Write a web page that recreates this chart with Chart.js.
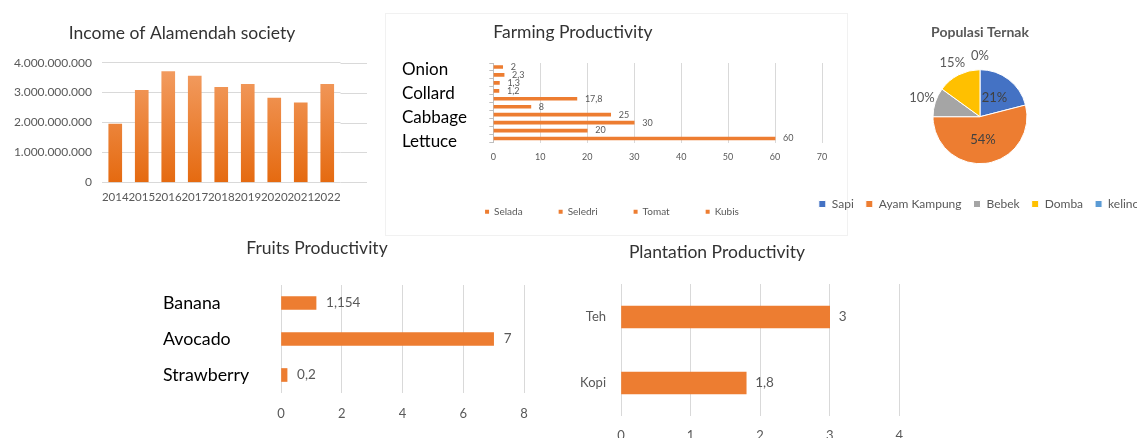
<!DOCTYPE html>
<html>
<head>
<meta charset="utf-8">
<script src="https://cdn.jsdelivr.net/npm/chart.js@4.4.1/dist/chart.umd.min.js"></script>
<style>
  html, body { margin: 0; padding: 0; background: #ffffff; }
  body { width: 1137px; height: 438px; position: relative; overflow: hidden; }
  canvas.c { position: absolute; }
  #farmBox { position: absolute; left: 385px; top: 13px; width: 461px; height: 221px; border: 1px solid #F1F1F1; }
</style>
</head>
<body>
<div id="farmBox"></div>
<canvas id="income" class="c" width="368" height="220" style="left:0px;top:0px"></canvas>
<canvas id="farming" class="c" width="461" height="221" style="left:386px;top:14px"></canvas>
<canvas id="pie" class="c" width="380" height="230" style="left:790px;top:0px"></canvas>
<canvas id="fruits" class="c" width="400" height="208" style="left:150px;top:230px"></canvas>
<canvas id="plant" class="c" width="395" height="260" style="left:520px;top:230px"></canvas>
<script>
// ---------------- DATA ----------------
const incomeYears = ['2014', '2015', '2016', '2017', '2018', '2019', '2020', '2021', '2022'];
const incomeValues = [1950000000, 3080000000, 3700000000, 3550000000, 3180000000, 3280000000, 2820000000, 2660000000, 3280000000];

const farmCategories = ['Onion', '', '', 'Collard', '', '', 'Cabbage', '', '', 'Lettuce'];
const farmValues = [2, 2.3, 1.3, 1.2, 17.8, 8, 25, 30, 20, 60];
const farmLegendNames = ['Selada', 'Seledri', 'Tomat', 'Kubis'];

const livestockNames = ['Sapi', 'Ayam Kampung', 'Bebek', 'Domba', 'kelinci'];
const livestockShare = [21, 54, 10, 15, 0];

const fruitNames = ['Banana', 'Avocado', 'Strawberry'];
const fruitValues = [1.154, 7, 0.2];

const plantNames = ['Teh', 'Kopi'];
const plantValues = [3, 1.8];

// ---------------- STYLE ----------------
const ORANGE = '#ED7D31';
const GRID = '#D9D9D9';
const TICK = '#595959';
const TITLE = '#333333';
const livestockColors = ['#4472C4', '#ED7D31', '#A5A5A5', '#FFC000', '#5B9BD5'];

Chart.defaults.font.family = 'Lato, "Open Sans", sans-serif';
Chart.defaults.animation = false;

const commaNum = v => String(v).replace('.', ',');
const dotThousands = v => String(Math.round(v)).replace(/\B(?=(\d{3})+(?!\d))/g, '.');

// ---------------- PLUGINS ----------------
const barValueLabels = {
  id: 'barValueLabels',
  afterDatasetsDraw(chart, args, opts) {
    const ctx = chart.ctx;
    chart.data.datasets.forEach((ds, di) => {
      const meta = chart.getDatasetMeta(di);
      meta.data.forEach((bar, i) => {
        const v = ds.data[i];
        if (v === null || v === undefined) return;
        ctx.save();
        ctx.font = `${opts.size}px ${Chart.defaults.font.family}`;
        ctx.fillStyle = opts.color;
        ctx.textAlign = 'left';
        ctx.textBaseline = 'middle';
        ctx.fillText(commaNum(v), bar.x + opts.offset, bar.y);
        ctx.restore();
      });
    });
  }
};

const extendGrid = {
  id: 'extendGrid',
  beforeDatasetsDraw(chart, args, opts) {
    const y = chart.scales.y;
    const { ctx, chartArea } = chart;
    ctx.save();
    ctx.strokeStyle = opts.color;
    ctx.lineWidth = 1;
    y.ticks.forEach(t => {
      const py = Math.round(y.getPixelForValue(t.value)) + 0.5;
      ctx.beginPath();
      ctx.moveTo(chartArea.right, py);
      ctx.lineTo(opts.to, py);
      ctx.stroke();
    });
    ctx.restore();
  }
};

const pieLabels = {
  id: 'pieLabels',
  afterDatasetsDraw(chart, args, opts) {
    const ctx = chart.ctx;
    const data = chart.data.datasets[0].data;
    const total = data.reduce((a, b) => a + b, 0);
    const meta = chart.getDatasetMeta(0);
    meta.data.forEach((arc, i) => {
      const p = arc.getProps(['x', 'y', 'startAngle', 'endAngle', 'outerRadius'], true);
      const mid = (p.startAngle + p.endAngle) / 2;
      const pct = Math.round(data[i] / total * 100);
      const inside = pct >= 20;
      const r = inside ? p.outerRadius * 0.5 : p.outerRadius + opts.outside;
      ctx.save();
      ctx.font = `${opts.size}px ${Chart.defaults.font.family}`;
      ctx.fillStyle = inside ? opts.insideColor : opts.outsideColor;
      ctx.textAlign = 'center';
      ctx.textBaseline = 'middle';
      ctx.fillText(pct + '%', p.x + Math.cos(mid) * r, p.y + Math.sin(mid) * r);
      ctx.restore();
    });
  }
};

const freeTitle = {
  id: 'freeTitle',
  afterDraw(chart, args, opts) {
    const ctx = chart.ctx;
    ctx.save();
    ctx.font = `${opts.size}px ${Chart.defaults.font.family}`;
    ctx.fillStyle = opts.color;
    ctx.textAlign = 'center';
    ctx.textBaseline = 'middle';
    ctx.fillText(opts.text, opts.x, opts.y);
    ctx.restore();
  }
};

function incomeGradient(chart) {
  const { ctx, chartArea } = chart;
  if (!chartArea) return ORANGE;
  const g = ctx.createLinearGradient(0, chartArea.top, 0, chartArea.bottom);
  g.addColorStop(0, '#F39F66');
  g.addColorStop(1, '#E56A10');
  return g;
}

// ---------------- INCOME ----------------
new Chart(document.getElementById('income'), {
  type: 'bar',
  data: {
    labels: incomeYears,
    datasets: [{ data: incomeValues, backgroundColor: c => incomeGradient(c.chart), barThickness: 13 }]
  },
  options: {
    responsive: false, devicePixelRatio: 1,
    layout: { padding: { left: 0, right: 27.5, top: 62.7, bottom: 7.9 } },
    plugins: {
      legend: { display: false }, tooltip: { enabled: false },
      freeTitle: { text: 'Income of Alamendah society', x: 182, y: 33, size: 17.5, color: TITLE },
      extendGrid: { to: 367, color: GRID }
    },
    scales: {
      x: { grid: { display: false, drawTicks: false }, border: { display: false },
           ticks: { autoSkip: false, maxRotation: 0, minRotation: 0, padding: 8, color: TICK, font: { size: 11.5 } } },
      y: { min: 0, max: 4000000000, afterFit(s) { s.width = 102; },
           grid: { color: GRID, drawTicks: false }, border: { display: false },
           ticks: { stepSize: 1000000000, padding: 10, color: TICK, font: { size: 12 }, callback: v => dotThousands(v) } }
    }
  },
  plugins: [extendGrid, freeTitle]
});

// ---------------- FARMING ----------------
new Chart(document.getElementById('farming'), {
  type: 'bar',
  data: {
    labels: farmCategories,
    datasets: [{ data: farmValues, backgroundColor: ORANGE, barThickness: 3 }]
  },
  options: {
    indexAxis: 'y', responsive: false, devicePixelRatio: 1,
    layout: { padding: { left: 16, right: 25, top: 0, bottom: 8.3 } },
    plugins: {
      tooltip: { enabled: false },
      title: { display: true, text: 'Farming Productivity', align: 'start', fullSize: false, color: TITLE,
               font: { size: 17.5, weight: 'normal' }, padding: { top: 7.5, bottom: 20.5 } },
      legend: {
        display: true, position: 'bottom', onClick: null,
        labels: {
          boxWidth: 4, boxHeight: 4, padding: 36, color: TICK, font: { size: 10 },
          generateLabels: () => farmLegendNames.map((t, i) => ({
            text: t, fillStyle: ORANGE, strokeStyle: ORANGE, lineWidth: 0, hidden: false, fontColor: TICK, datasetIndex: 0, index: i
          }))
        }
      },
      barValueLabels: { color: TICK, size: 9, offset: 8 }
    },
    scales: {
      x: { min: 0, max: 70, afterFit(s) { s.height = 28.2; },
           grid: { color: GRID, drawTicks: false }, border: { display: false },
           ticks: { stepSize: 10, padding: 9, color: TICK, font: { size: 9 } } },
      y: { afterFit(s) { s.width = 91.3; },
           grid: { drawOnChartArea: false, drawTicks: true, tickLength: 4, color: '#BFBFBF', offset: true },
           border: { display: true, color: '#BFBFBF' },
           ticks: { autoSkip: false, crossAlign: 'far', labelOffset: 3, color: '#000000', font: { size: 17 } } }
    }
  },
  plugins: [barValueLabels]
});

// ---------------- PIE ----------------
new Chart(document.getElementById('pie'), {
  type: 'pie',
  data: {
    labels: livestockNames,
    datasets: [{ data: livestockShare, backgroundColor: livestockColors, borderColor: '#ffffff', borderWidth: 1, radius: 47 }]
  },
  options: {
    responsive: false, devicePixelRatio: 1,
    layout: { padding: { left: 0, right: 0, top: 0, bottom: 10 } },
    plugins: {
      tooltip: { enabled: false },
      title: { display: true, text: 'Populasi Ternak', color: '#595959',
               font: { size: 14, weight: 'bold' }, padding: { top: 23.6, bottom: 7 } },
      legend: { position: 'bottom', onClick: null,
                labels: { boxWidth: 7, boxHeight: 7, padding: 12, color: TICK, font: { size: 12 } } },
      pieLabels: { size: 13, insideColor: '#404040', outsideColor: TICK, outside: 14 }
    }
  },
  plugins: [pieLabels]
});

// ---------------- FRUITS ----------------
new Chart(document.getElementById('fruits'), {
  type: 'bar',
  data: {
    labels: fruitNames,
    datasets: [{ data: fruitValues, backgroundColor: ORANGE, barThickness: 13 }]
  },
  options: {
    indexAxis: 'y', responsive: false, devicePixelRatio: 1,
    layout: { padding: { left: 13, right: 26, top: 55, bottom: 3.4 } },
    plugins: {
      legend: { display: false }, tooltip: { enabled: false },
      freeTitle: { text: 'Fruits Productivity', x: 167, y: 18, size: 17.5, color: TITLE },
      barValueLabels: { color: TICK, size: 13.5, offset: 10 }
    },
    scales: {
      x: { min: 0, max: 8, grid: { color: GRID, drawTicks: false }, border: { display: false },
           ticks: { stepSize: 2, padding: 13, color: TICK, font: { size: 13 } } },
      y: { afterFit(s) { s.width = 118; }, grid: { display: false, drawTicks: false }, border: { display: false },
           ticks: { crossAlign: 'far', color: '#000000', font: { size: 17.8 } } }
    }
  },
  plugins: [barValueLabels, freeTitle]
});

// ---------------- PLANTATION ----------------
new Chart(document.getElementById('plant'), {
  type: 'bar',
  data: {
    labels: plantNames,
    datasets: [{ data: plantValues, backgroundColor: ORANGE, barThickness: 22 }]
  },
  options: {
    indexAxis: 'y', responsive: false, devicePixelRatio: 1,
    layout: { padding: { left: 9, right: 10, top: 0, bottom: 34.4 } },
    plugins: {
      legend: { display: false }, tooltip: { enabled: false },
      title: { display: true, text: 'Plantation Productivity', color: TITLE,
               font: { size: 17.5, weight: 'normal' }, padding: { top: 11.5, bottom: 21.5 } },
      barValueLabels: { color: TICK, size: 13.5, offset: 9 }
    },
    scales: {
      x: { min: 0, max: 4, grid: { color: GRID, drawTicks: false }, border: { display: false },
           ticks: { stepSize: 1, padding: 12, color: TICK, font: { size: 13 } } },
      y: { afterFit(s) { s.width = 92; }, grid: { display: false, drawTicks: false }, border: { display: false },
           ticks: { crossAlign: 'near', padding: 15, color: TICK, font: { size: 13 } } }
    }
  },
  plugins: [barValueLabels]
});
</script>
</body>
</html>
